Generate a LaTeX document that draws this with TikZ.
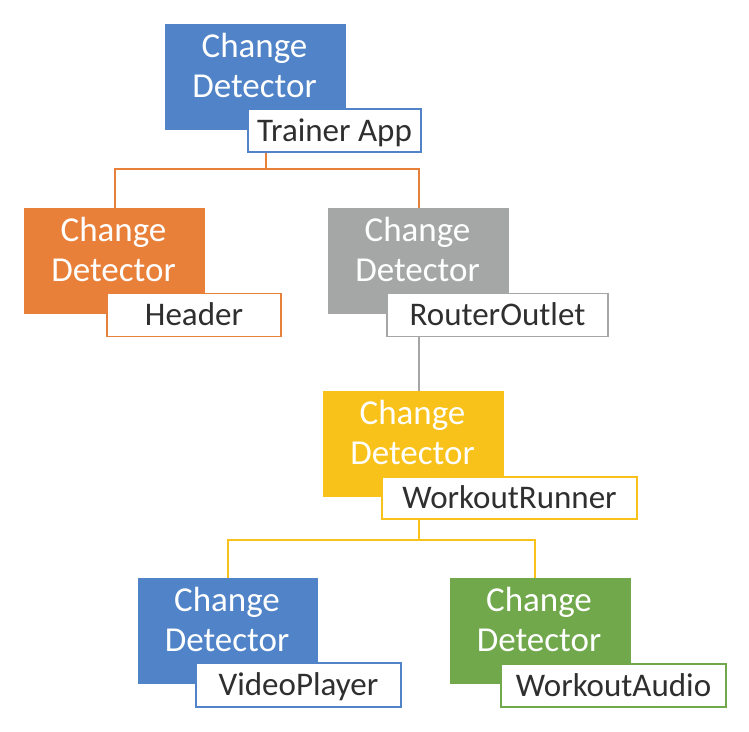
\documentclass[tikz,border=0pt]{standalone}
\usepackage{fontspec}
\setmainfont{Carlito}
\usetikzlibrary{calc}
\definecolor{cdblue}{RGB}{80,131,199}
\definecolor{cdorange}{RGB}{233,128,58}
\definecolor{cdgray}{RGB}{165,167,167}
\definecolor{cdyellow}{RGB}{248,194,26}
\definecolor{cdgreen}{RGB}{112,168,75}
\definecolor{labeltext}{RGB}{47,47,47}
\begin{document}
\begin{tikzpicture}[x=1pt,y=-1pt,
  cdbox/.style={fill=#1, draw=none, minimum width=181pt, minimum height=106pt, inner sep=0pt},
  cdtext/.style={anchor=base, text=white, font=\fontsize{35}{40}\selectfont, inner sep=0pt},
  lbl/.style={draw=#1, line width=1.5pt, fill=white, minimum height=43pt, inner sep=0pt,
    text=labeltext, font=\fontsize{33}{40}\selectfont, text height=21pt, text depth=0pt},
  conn/.style={draw=#1, line width=2pt}]
\useasboundingbox (0,0) rectangle (749,731);

% Trainer App
\node[cdbox=cdblue] (b1) at (255.5,77) {};
\node[cdtext] (b1t1) at ($(b1.center)+(-1,-20)$) {Change};
\node[cdtext] (b1t2) at ($(b1.center)+(-1,20)$) {Detector};
\node[lbl=cdblue, minimum width=173pt] (ta) at (334.5,130.5) {Trainer App};

% Header
\node[cdbox=cdorange] (ob) at (114.5,261) {};
\node[cdtext] (obt1) at ($(ob.center)+(-1,-20)$) {Change};
\node[cdtext] (obt2) at ($(ob.center)+(-1,20)$) {Detector};
\node[lbl=cdorange, minimum width=174pt] (hd) at (194,315) {Header};

% RouterOutlet
\node[cdbox=cdgray] (gb) at (418.5,261) {};
\node[cdtext] (gbt1) at ($(gb.center)+(-1,-20)$) {Change};
\node[cdtext] (gbt2) at ($(gb.center)+(-1,20)$) {Detector};
\node[lbl=cdgray, minimum width=221pt] (ro) at (497.5,315) {RouterOutlet};

% WorkoutRunner
\node[cdbox=cdyellow] (yb) at (413.5,444) {};
\node[cdtext] (ybt1) at ($(yb.center)+(-1,-20)$) {Change};
\node[cdtext] (ybt2) at ($(yb.center)+(-1,20)$) {Detector};
\node[lbl=cdyellow, minimum width=255pt, minimum height=42pt] (wr) at (509.5,498) {WorkoutRunner};

% VideoPlayer
\node[cdbox=cdblue, minimum width=180pt] (b2) at (228,631) {};
\node[cdtext] (b2t1) at ($(b2.center)+(-1,-20)$) {Change};
\node[cdtext] (b2t2) at ($(b2.center)+(-1,20)$) {Detector};
\node[lbl=cdblue, minimum width=205pt, minimum height=44pt] (vp) at (298.5,685) {VideoPlayer};

% WorkoutAudio
\node[cdbox=cdgreen] (grb) at (540,631) {};
\node[cdtext] (grbt1) at ($(grb.center)+(-1,-20)$) {Change};
\node[cdtext] (grbt2) at ($(grb.center)+(-1,20)$) {Detector};
\node[lbl=cdgreen, minimum width=225pt] (wa) at (613.5,685.5) {WorkoutAudio};

% connectors
\coordinate (j1) at (266,169);
\draw[conn=cdorange] (ta.south -| j1) -- (j1);
\draw[conn=cdorange] (ob.north) |- (j1) -| (gb.north);

\draw[conn=cdgray] (ro.south -| gb.north) -- (yb.north -| gb.north);

\coordinate (j2) at (419,540);
\coordinate (j3) at (535,578);
\draw[conn=cdyellow] (wr.south -| j2) -- (j2);
\draw[conn=cdyellow] (b2.north) |- (j2) -| (j3);
\end{tikzpicture}
\end{document}
